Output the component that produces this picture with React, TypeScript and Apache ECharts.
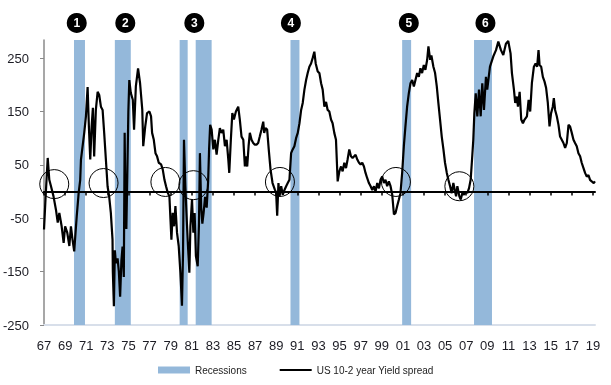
import React, { useEffect, useRef } from "react";
import * as echarts from "echarts";

const FONT = "'Liberation Sans', Arial, sans-serif";

// US 10-2 year yield spread (bp), [decimal year, value]
const spread1967to1972: [number, number][] = [
  [1967.0, -71], [1967.15, -10], [1967.35, 63], [1967.5, 22], [1967.66, 10], [1967.9, -9],
  [1968.13, -34], [1968.3, -58], [1968.45, -40], [1968.67, -65], [1968.86, -96], [1969.0, -65],
  [1969.2, -77], [1969.4, -102], [1969.55, -65], [1969.7, -90], [1969.86, -112], [1969.96, -84],
  [1970.1, -46], [1970.28, -3], [1970.43, 22], [1970.5, 60], [1970.81, 110], [1970.97, 141],
  [1971.13, 196], [1971.25, 122], [1971.38, 60], [1971.51, 122], [1971.63, 157], [1971.75, 66],
  [1971.91, 153], [1972.08, 187], [1972.23, 181], [1972.39, 159], [1972.55, 153], [1972.7, 110],
  [1972.86, 60],
];
const spread1973to1979: [number, number][] = [
  [1973.02, 10], [1973.17, -9], [1973.33, -40], [1973.49, -90], [1973.52, -150], [1973.62, -215],
  [1973.71, -110], [1973.81, -134], [1973.97, -125], [1974.09, -150], [1974.21, -197], [1974.33, -130],
  [1974.44, -103], [1974.56, -160], [1974.64, 110], [1974.71, -20], [1974.8, -70], [1974.89, 30],
  [1974.99, 150], [1975.08, 209], [1975.22, 185], [1975.41, 172], [1975.53, 116], [1975.7, 197],
  [1975.91, 231], [1976.1, 203], [1976.31, 153], [1976.4, 85], [1976.59, 122], [1976.76, 147],
  [1976.99, 150], [1977.14, 141], [1977.24, 110], [1977.4, 97], [1977.56, 72], [1977.71, 66],
  [1977.87, 54], [1978.09, 51], [1978.25, 41], [1978.41, 22], [1978.56, 10], [1978.72, -2],
  [1978.88, -9], [1978.98, -52], [1979.07, -90], [1979.19, -40], [1979.32, -65], [1979.45, -27],
  [1979.6, -77], [1979.76, -102], [1979.92, -152],
];
const spread1980to1989: [number, number][] = [
  [1980.07, -214], [1980.17, -115], [1980.26, 97], [1980.39, 10], [1980.52, -52], [1980.64, -102],
  [1980.77, -152], [1980.87, -65], [1981.02, -15], [1981.15, -77], [1981.27, -40], [1981.39, -121],
  [1981.56, -140], [1981.68, -60], [1981.77, 72], [1981.89, -30], [1982.0, -60], [1982.12, -40],
  [1982.26, -10], [1982.41, -30], [1982.55, 20], [1982.64, 80], [1982.74, 125], [1982.88, 116],
  [1983.04, 79], [1983.19, 97], [1983.35, 69], [1983.51, 97], [1983.66, 119], [1983.82, 110],
  [1983.98, 116], [1984.14, 85], [1984.3, 97], [1984.46, 60], [1984.55, 35], [1984.7, 97],
  [1984.84, 147], [1984.99, 135], [1985.18, 150], [1985.4, 159], [1985.55, 135], [1985.71, 103],
  [1985.88, 97], [1986.03, 47], [1986.12, 66], [1986.25, 47], [1986.38, 85], [1986.5, 110],
  [1986.66, 97], [1986.82, 91], [1986.97, 88], [1987.13, 88], [1987.29, 91], [1987.44, 103],
  [1987.6, 116], [1987.77, 131], [1987.86, 110], [1987.98, 119], [1988.14, 116], [1988.29, 79],
  [1988.46, 41], [1988.65, 16], [1988.86, 4], [1988.99, -2], [1989.09, -45], [1989.21, 16],
  [1989.31, -9], [1989.47, 10], [1989.62, -6], [1989.78, 3], [1989.94, 10],
];
const spread1990to1999: [number, number][] = [
  [1990.09, 16], [1990.25, 22], [1990.41, 72], [1990.56, 79], [1990.72, 85], [1990.88, 100],
  [1991.04, 110], [1991.2, 128], [1991.36, 153], [1991.51, 166], [1991.67, 191], [1991.83, 209],
  [1991.98, 222], [1992.14, 234], [1992.3, 240], [1992.45, 250], [1992.61, 262], [1992.74, 240],
  [1992.93, 225], [1993.09, 222], [1993.25, 203], [1993.4, 191], [1993.56, 159], [1993.72, 168],
  [1993.87, 153], [1994.03, 150], [1994.19, 135], [1994.34, 128], [1994.5, 110], [1994.66, 97],
  [1994.82, 19], [1994.98, 38], [1995.14, 47], [1995.29, 38], [1995.45, 54], [1995.61, 44],
  [1995.76, 60], [1995.92, 79], [1996.08, 66], [1996.23, 63], [1996.52, 69], [1996.68, 60],
  [1996.84, 54], [1996.99, 51], [1997.15, 54], [1997.31, 47], [1997.46, 35], [1997.62, 25],
  [1997.78, 16], [1997.94, 10], [1998.1, 3], [1998.26, 10], [1998.41, 0], [1998.57, 16],
  [1998.73, 6], [1998.88, 22], [1999.04, 28], [1999.2, 16], [1999.35, 22], [1999.51, 10],
  [1999.67, 19], [1999.83, 10], [1999.99, -6],
];
const spread2000to2009: [number, number][] = [
  [2000.15, -43], [2000.3, -40], [2000.46, -27], [2000.62, -15], [2000.77, -3], [2000.93, 35],
  [2001.09, 85], [2001.24, 122], [2001.4, 159], [2001.56, 184], [2001.72, 203], [2001.88, 209],
  [2002.04, 197], [2002.19, 209], [2002.35, 222], [2002.51, 215], [2002.66, 231], [2002.82, 222],
  [2002.98, 237], [2003.13, 228], [2003.3, 247], [2003.42, 272], [2003.58, 247], [2003.7, 255],
  [2003.89, 234], [2004.05, 222], [2004.21, 197], [2004.36, 166], [2004.52, 135], [2004.68, 103],
  [2004.84, 79], [2004.99, 54], [2005.16, 35], [2005.31, 22], [2005.47, 10], [2005.63, -3],
  [2005.78, 16], [2005.94, 0], [2006.04, -9], [2006.16, 10], [2006.35, -9], [2006.48, -15],
  [2006.63, -3], [2006.79, -6], [2006.98, 0], [2007.1, -3], [2007.26, 6], [2007.42, 22],
  [2007.55, 60], [2007.67, 97], [2007.77, 147], [2007.9, 184], [2008.05, 141], [2008.21, 191],
  [2008.37, 141], [2008.52, 203], [2008.68, 153], [2008.87, 215], [2008.99, 191], [2009.25, 234],
  [2009.56, 253], [2009.82, 265],
];
const spread2010to2019: [number, number][] = [
  [2010.04, 281], [2010.29, 265], [2010.51, 256], [2010.76, 277], [2010.98, 282], [2011.2, 259],
  [2011.33, 222], [2011.52, 191], [2011.64, 166], [2011.8, 178], [2011.9, 159], [2012.06, 187],
  [2012.21, 135], [2012.37, 128], [2012.53, 135], [2012.75, 141], [2012.91, 172], [2013.06, 150],
  [2013.22, 203], [2013.41, 234], [2013.57, 240], [2013.72, 234], [2013.85, 265], [2013.95, 237],
  [2014.1, 234], [2014.26, 215], [2014.42, 206], [2014.57, 194], [2014.73, 166], [2014.89, 122],
  [2015.04, 147], [2015.2, 159], [2015.3, 175], [2015.42, 153], [2015.58, 141], [2015.74, 125],
  [2015.89, 103], [2016.05, 97], [2016.21, 91], [2016.37, 82], [2016.53, 91], [2016.69, 125],
  [2016.84, 122], [2017.0, 110], [2017.16, 97], [2017.31, 91], [2017.47, 85], [2017.63, 72],
  [2017.79, 66], [2017.94, 54], [2018.11, 44], [2018.26, 35], [2018.42, 28], [2018.58, 31],
  [2018.73, 22], [2018.89, 19], [2019.08, 16], [2019.2, 19],
];

// Recession periods [start, end] in decimal years
const recessions: [number, number][] = [
  [1969.84, 1970.88], [1973.71, 1975.22], [1979.85, 1980.61], [1981.37, 1982.88],
  [1990.35, 1991.2], [2000.93, 2001.78], [2007.74, 2009.44],
];

// Numbered annotations (black discs above the plot)
const markerLabels = ["1", "2", "3", "4", "5", "6"];
const markerYears = [1970.1, 1974.7, 1981.24, 1990.39, 2001.56, 2008.82];
const markerLevel = 316;

// Hollow circles around curve inversions [year, level]
const inversionCircles: [number, number][] = [
  [1967.97, 14], [1972.64, 16], [1978.5, 18], [1981.15, 12], [1989.35, 18], [2000.34, 18], [2006.35, 10],
];

const yTickValues = [-250, -150, -50, 50, 150, 250];
const xTickYears = [
  1967, 1969, 1971, 1973, 1975, 1977, 1979, 1981, 1983, 1985, 1987, 1989, 1991, 1993,
  1995, 1997, 1999, 2001, 2003, 2005, 2007, 2009, 2011, 2013, 2015, 2017, 2019,
];

const X_MIN = 1967;
const X_MAX = 2019.2;
const Y_MIN = -250;
const Y_MAX = 284;

export default function App() {
  const ref = useRef<HTMLDivElement>(null);

  useEffect(() => {
    if (!ref.current) return;
    const chart = echarts.init(ref.current, null, { renderer: "svg" });
    const spread = [
      ...spread1967to1972,
      ...spread1973to1979,
      ...spread1980to1989,
      ...spread1990to1999,
      ...spread2000to2009,
      ...spread2010to2019,
    ];
    const labelColor = "#1c1c24";

    chart.setOption({
      animation: false,
      textStyle: { fontFamily: FONT },
      grid: { left: 43, right: 16, top: 40, bottom: 60, containLabel: false },
      legend: {
        left: 158,
        top: 365,
        padding: 0,
        itemWidth: 32,
        itemHeight: 7,
        itemGap: 33,
        textStyle: { fontSize: 10, color: "#222", fontFamily: FONT },
        data: [
          { name: "Recessions", icon: "rect" },
          { name: "US 10-2 year Yield spread", icon: "path://M0,0 L32,0 L32,2 L0,2 Z", itemStyle: { color: "#000" } },
        ],
      },
      xAxis: [
        {
          type: "value",
          position: "bottom",
          min: X_MIN,
          max: X_MAX,
          axisLine: { show: true, onZero: false, lineStyle: { color: "#D8DFEA", width: 2 } },
          axisTick: { show: false },
          splitLine: { show: false },
          axisLabel: {
            customValues: xTickYears,
            formatter: (v: number) => String(Math.round(v) % 100).padStart(2, "0"),
            fontSize: 13,
            color: labelColor,
            margin: 14,
            fontFamily: FONT,
          },
        },
        {
          type: "value",
          position: "top",
          min: X_MIN,
          max: X_MAX,
          z: 5,
          axisLine: { show: true, onZero: true, lineStyle: { color: "#000", width: 2 } },
          axisTick: {
            show: true,
            inside: true,
            length: 4,
            customValues: xTickYears,
            lineStyle: { color: "#000", width: 1.5 },
          },
          axisLabel: { show: false },
          splitLine: { show: false },
        },
      ],
      yAxis: {
        type: "value",
        min: Y_MIN,
        max: Y_MAX,
        axisLine: { show: true, onZero: false, lineStyle: { color: "#8a8a8a", width: 1.5 } },
        axisTick: { show: true, length: 4, customValues: yTickValues, lineStyle: { color: "#8a8a8a" } },
        axisLabel: {
          customValues: yTickValues,
          fontSize: 13,
          color: labelColor,
          margin: 15,
          fontFamily: FONT,
        },
        splitLine: { show: false },
      },
      series: [
        {
          name: "Recessions",
          type: "line",
          data: [],
          z: 1,
          itemStyle: { color: "#94B8DA" },
          lineStyle: { color: "#94B8DA" },
          markArea: {
            silent: true,
            itemStyle: { color: "#94B8DA" },
            data: recessions.map(([a, b]) => [{ xAxis: a }, { xAxis: b }]),
          },
        },
        {
          name: "US 10-2 year Yield spread",
          type: "line",
          data: spread,
          symbol: "none",
          z: 10,
          lineStyle: { color: "#000", width: 2.2 },
          itemStyle: { color: "#000" },
          markPoint: {
            silent: true,
            data: inversionCircles.map(([yr, v]) => ({
              coord: [yr, v],
              symbol: "circle",
              symbolSize: 29,
              itemStyle: { color: "rgba(0,0,0,0)", borderColor: "#000", borderWidth: 1 },
              label: { show: false },
            })),
          },
        },
      ],
    });

    const markerPixels = markerYears.map((yr) =>
      chart.convertToPixel({ gridIndex: 0 }, [yr, markerLevel]) as number[]
    );
    chart.setOption({
      graphic: markerPixels.map((p, i) => ({
        type: "group",
        x: p[0],
        y: p[1],
        z: 100,
        children: [
          { type: "circle", shape: { cx: 0, cy: 0, r: 10 }, style: { fill: "#000" } },
          {
            type: "text",
            style: {
              text: markerLabels[i],
              x: 0,
              y: 0,
              fill: "#fff",
              font: "bold 12px 'Liberation Sans', Arial, sans-serif",
              textAlign: "center",
              textVerticalAlign: "middle",
              align: "center",
              verticalAlign: "middle",
            },
          },
        ],
      })),
    });

    return () => chart.dispose();
  }, []);

  return (
    <div
      ref={ref}
      style={{ position: "fixed", left: 0, top: 0, width: 611, height: 385 }}
    />
  );
}
